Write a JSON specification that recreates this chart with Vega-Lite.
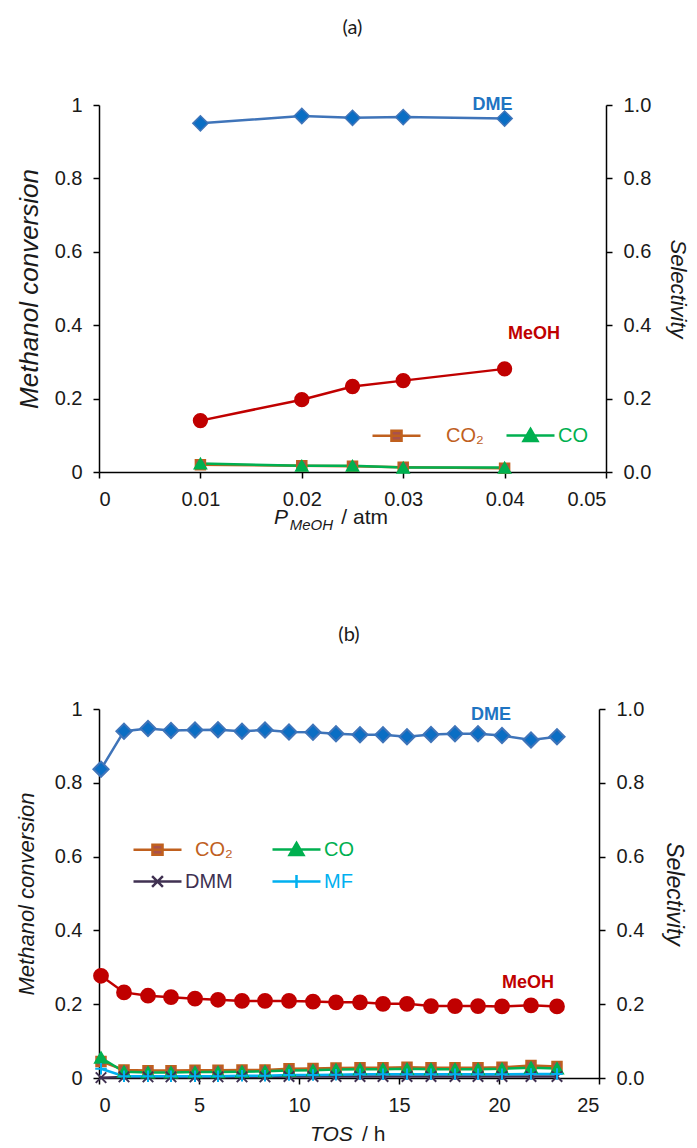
{
  "$schema": "https://vega.github.io/schema/vega-lite/v6.json",
  "padding": {"left": 15, "top": 18, "right": 5, "bottom": 0},
  "background": "white",
  "config": {
    "view": {"stroke": null},
    "axis": {
      "grid": false,
      "domainColor": "black",
      "domainWidth": 1.5,
      "tickColor": "black",
      "tickWidth": 1.5,
      "tickSize": 6,
      "labelFont": "Liberation Sans",
      "labelFontSize": 20,
      "labelColor": "#1a1a1a",
      "labelPadding": 11,
      "titleFont": "Liberation Sans",
      "titleFontSize": 22,
      "titleFontStyle": "italic",
      "titleFontWeight": "normal",
      "titleColor": "#1a1a1a"
    },
    "legend": {
      "labelFont": "Liberation Sans",
      "labelFontSize": 20
    },
    "title": {"font": "Lato", "fontSize": 20, "fontWeight": "normal", "color": "#1a1a1a", "anchor": "middle"}
  },
  "datasets": {
    "a": [
      {"p": 0.01, "series": "DME", "value": 0.950},
      {"p": 0.02, "series": "DME", "value": 0.970},
      {"p": 0.025, "series": "DME", "value": 0.965},
      {"p": 0.03, "series": "DME", "value": 0.967},
      {"p": 0.04, "series": "DME", "value": 0.963},
      {"p": 0.01, "series": "MeOH", "value": 0.140},
      {"p": 0.02, "series": "MeOH", "value": 0.197},
      {"p": 0.025, "series": "MeOH", "value": 0.233},
      {"p": 0.03, "series": "MeOH", "value": 0.249},
      {"p": 0.04, "series": "MeOH", "value": 0.281},
      {"p": 0.01, "series": "CO2", "value": 0.020},
      {"p": 0.02, "series": "CO2", "value": 0.017},
      {"p": 0.025, "series": "CO2", "value": 0.016},
      {"p": 0.03, "series": "CO2", "value": 0.013},
      {"p": 0.04, "series": "CO2", "value": 0.010},
      {"p": 0.01, "series": "CO", "value": 0.023},
      {"p": 0.02, "series": "CO", "value": 0.017},
      {"p": 0.025, "series": "CO", "value": 0.017},
      {"p": 0.03, "series": "CO", "value": 0.012},
      {"p": 0.04, "series": "CO", "value": 0.012}
    ],
    "b": [
      {"tos": 0.1, "series": "DME", "value": 0.837},
      {"tos": 1.25, "series": "DME", "value": 0.940},
      {"tos": 2.45, "series": "DME", "value": 0.947},
      {"tos": 3.6, "series": "DME", "value": 0.942},
      {"tos": 4.8, "series": "DME", "value": 0.943},
      {"tos": 5.95, "series": "DME", "value": 0.944},
      {"tos": 7.15, "series": "DME", "value": 0.940},
      {"tos": 8.3, "series": "DME", "value": 0.943},
      {"tos": 9.5, "series": "DME", "value": 0.938},
      {"tos": 10.7, "series": "DME", "value": 0.937},
      {"tos": 11.85, "series": "DME", "value": 0.933},
      {"tos": 13.05, "series": "DME", "value": 0.930},
      {"tos": 14.2, "series": "DME", "value": 0.930},
      {"tos": 15.4, "series": "DME", "value": 0.925},
      {"tos": 16.6, "series": "DME", "value": 0.931},
      {"tos": 17.8, "series": "DME", "value": 0.933},
      {"tos": 18.95, "series": "DME", "value": 0.933},
      {"tos": 20.15, "series": "DME", "value": 0.928},
      {"tos": 21.6, "series": "DME", "value": 0.916},
      {"tos": 22.9, "series": "DME", "value": 0.925},
      {"tos": 0.1, "series": "MeOH", "value": 0.277},
      {"tos": 1.25, "series": "MeOH", "value": 0.232},
      {"tos": 2.45, "series": "MeOH", "value": 0.223},
      {"tos": 3.6, "series": "MeOH", "value": 0.219},
      {"tos": 4.8, "series": "MeOH", "value": 0.215},
      {"tos": 5.95, "series": "MeOH", "value": 0.212},
      {"tos": 7.15, "series": "MeOH", "value": 0.209},
      {"tos": 8.3, "series": "MeOH", "value": 0.209},
      {"tos": 9.5, "series": "MeOH", "value": 0.209},
      {"tos": 10.7, "series": "MeOH", "value": 0.207},
      {"tos": 11.85, "series": "MeOH", "value": 0.205},
      {"tos": 13.05, "series": "MeOH", "value": 0.205},
      {"tos": 14.2, "series": "MeOH", "value": 0.201},
      {"tos": 15.4, "series": "MeOH", "value": 0.201},
      {"tos": 16.6, "series": "MeOH", "value": 0.195},
      {"tos": 17.8, "series": "MeOH", "value": 0.195},
      {"tos": 18.95, "series": "MeOH", "value": 0.195},
      {"tos": 20.15, "series": "MeOH", "value": 0.194},
      {"tos": 21.6, "series": "MeOH", "value": 0.197},
      {"tos": 22.9, "series": "MeOH", "value": 0.194},
      {"tos": 0.1, "series": "CO2", "value": 0.045},
      {"tos": 1.25, "series": "CO2", "value": 0.022},
      {"tos": 2.45, "series": "CO2", "value": 0.020},
      {"tos": 3.6, "series": "CO2", "value": 0.020},
      {"tos": 4.8, "series": "CO2", "value": 0.021},
      {"tos": 5.95, "series": "CO2", "value": 0.021},
      {"tos": 7.15, "series": "CO2", "value": 0.022},
      {"tos": 8.3, "series": "CO2", "value": 0.022},
      {"tos": 9.5, "series": "CO2", "value": 0.025},
      {"tos": 10.7, "series": "CO2", "value": 0.026},
      {"tos": 11.85, "series": "CO2", "value": 0.027},
      {"tos": 13.05, "series": "CO2", "value": 0.028},
      {"tos": 14.2, "series": "CO2", "value": 0.028},
      {"tos": 15.4, "series": "CO2", "value": 0.029},
      {"tos": 16.6, "series": "CO2", "value": 0.028},
      {"tos": 17.8, "series": "CO2", "value": 0.028},
      {"tos": 18.95, "series": "CO2", "value": 0.028},
      {"tos": 20.15, "series": "CO2", "value": 0.029},
      {"tos": 21.6, "series": "CO2", "value": 0.034},
      {"tos": 22.9, "series": "CO2", "value": 0.031},
      {"tos": 0.1, "series": "CO", "value": 0.055},
      {"tos": 1.25, "series": "CO", "value": 0.017},
      {"tos": 2.45, "series": "CO", "value": 0.015},
      {"tos": 3.6, "series": "CO", "value": 0.015},
      {"tos": 4.8, "series": "CO", "value": 0.016},
      {"tos": 5.95, "series": "CO", "value": 0.016},
      {"tos": 7.15, "series": "CO", "value": 0.017},
      {"tos": 8.3, "series": "CO", "value": 0.018},
      {"tos": 9.5, "series": "CO", "value": 0.020},
      {"tos": 10.7, "series": "CO", "value": 0.021},
      {"tos": 11.85, "series": "CO", "value": 0.023},
      {"tos": 13.05, "series": "CO", "value": 0.024},
      {"tos": 14.2, "series": "CO", "value": 0.024},
      {"tos": 15.4, "series": "CO", "value": 0.025},
      {"tos": 16.6, "series": "CO", "value": 0.024},
      {"tos": 17.8, "series": "CO", "value": 0.024},
      {"tos": 18.95, "series": "CO", "value": 0.024},
      {"tos": 20.15, "series": "CO", "value": 0.025},
      {"tos": 21.6, "series": "CO", "value": 0.028},
      {"tos": 22.9, "series": "CO", "value": 0.026},
      {"tos": 0.1, "series": "DMM", "value": 0.001},
      {"tos": 1.25, "series": "DMM", "value": 0.003},
      {"tos": 2.45, "series": "DMM", "value": 0.003},
      {"tos": 3.6, "series": "DMM", "value": 0.003},
      {"tos": 4.8, "series": "DMM", "value": 0.003},
      {"tos": 5.95, "series": "DMM", "value": 0.003},
      {"tos": 7.15, "series": "DMM", "value": 0.003},
      {"tos": 8.3, "series": "DMM", "value": 0.003},
      {"tos": 9.5, "series": "DMM", "value": 0.004},
      {"tos": 10.7, "series": "DMM", "value": 0.004},
      {"tos": 11.85, "series": "DMM", "value": 0.004},
      {"tos": 13.05, "series": "DMM", "value": 0.004},
      {"tos": 14.2, "series": "DMM", "value": 0.004},
      {"tos": 15.4, "series": "DMM", "value": 0.004},
      {"tos": 16.6, "series": "DMM", "value": 0.004},
      {"tos": 17.8, "series": "DMM", "value": 0.004},
      {"tos": 18.95, "series": "DMM", "value": 0.004},
      {"tos": 20.15, "series": "DMM", "value": 0.004},
      {"tos": 21.6, "series": "DMM", "value": 0.004},
      {"tos": 22.9, "series": "DMM", "value": 0.004},
      {"tos": 0.1, "series": "MF", "value": 0.025},
      {"tos": 1.25, "series": "MF", "value": 0.005},
      {"tos": 2.45, "series": "MF", "value": 0.005},
      {"tos": 3.6, "series": "MF", "value": 0.005},
      {"tos": 4.8, "series": "MF", "value": 0.005},
      {"tos": 5.95, "series": "MF", "value": 0.005},
      {"tos": 7.15, "series": "MF", "value": 0.006},
      {"tos": 8.3, "series": "MF", "value": 0.006},
      {"tos": 9.5, "series": "MF", "value": 0.008},
      {"tos": 10.7, "series": "MF", "value": 0.008},
      {"tos": 11.85, "series": "MF", "value": 0.009},
      {"tos": 13.05, "series": "MF", "value": 0.010},
      {"tos": 14.2, "series": "MF", "value": 0.010},
      {"tos": 15.4, "series": "MF", "value": 0.010},
      {"tos": 16.6, "series": "MF", "value": 0.010},
      {"tos": 17.8, "series": "MF", "value": 0.010},
      {"tos": 18.95, "series": "MF", "value": 0.010},
      {"tos": 20.15, "series": "MF", "value": 0.010},
      {"tos": 21.6, "series": "MF", "value": 0.011},
      {"tos": 22.9, "series": "MF", "value": 0.011}
    ]
  },
  "spacing": 92,
  "resolve": {
    "scale": {"x": "independent", "y": "independent", "fill": "independent", "stroke": "independent", "shape": "independent", "size": "independent"},
    "legend": {"fill": "independent", "stroke": "independent", "shape": "independent", "size": "independent"}
  },
  "vconcat": [
    {
      "title": {"text": "(a)", "offset": 57},
      "width": 507,
      "height": 367,
      "data": {"name": "a"},
      "resolve": {"scale": {"y": "independent"}},
      "layer": [
        {
          "layer": [
            {
              "mark": {"type": "line", "strokeWidth": 2.5},
              "encoding": {
                "x": {"field": "p", "type": "quantitative", "scale": {"domain": [0, 0.05], "nice": false}, "axis": {"values": [0, 0.01, 0.02, 0.03, 0.04, 0.05], "format": "~g", "title": null}},
                "y": {"field": "value", "type": "quantitative", "scale": {"domain": [0, 1], "nice": false}, "axis": {"values": [0, 0.2, 0.4, 0.6, 0.8, 1], "format": "~g", "title": "Methanol conversion", "titleFontSize": 26, "titlePadding": 12}},
                "stroke": {"field": "series", "type": "nominal", "scale": {"domain": ["MeOH", "DME", "CO2", "CO"], "range": ["#c00000", "#3f74b9", "#c0601e", "#00b050"]}, "legend": null}
              }
            },
            {
              "mark": {"type": "point", "filled": true, "strokeWidth": 1.5, "opacity": 1},
              "encoding": {
                "x": {"field": "p", "type": "quantitative"},
                "y": {"field": "value", "type": "quantitative"},
                "stroke": {"field": "series", "type": "nominal", "legend": null},
                "shape": {"field": "series", "type": "nominal", "scale": {"domain": ["CO", "CO2", "MeOH", "DME"], "range": ["triangle-up", "square", "circle", "diamond"]}, "legend": null},
                "size": {"field": "series", "type": "ordinal", "scale": {"type": "ordinal", "domain": ["CO2", "CO", "DME", "MeOH"], "range": [100, 150, 230, 190]}, "legend": null},
                "fill": {
                  "field": "series", "type": "nominal",
                  "scale": {"domain": ["DME", "MeOH", "CO2", "CO"], "range": ["#0a6ec4", "#c00000", "#a9514c", "#00b050"]},
                  "legend": {
                    "orient": "none", "legendX": 272, "legendY": 317, "direction": "horizontal", "columns": 2,
                    "values": ["CO2", "CO"], "title": null, "symbolSize": 576, "columnPadding": 17,
                    "labelOffset": {"expr": "datum.value === 'CO2' ? 48 : 26"},
                    "labelExpr": "datum.value === 'CO2' ? 'CO₂' : datum.label",
                    "symbolType": {"expr": "datum.value === 'CO' ? 'M-1,0H3M1,-0.55L1.58,0.45H0.42Z' : 'M-1,0H3M0.58,-0.42H1.42V0.42H0.58Z'"},
                    "symbolStrokeColor": {"expr": "datum.value === 'CO' ? '#00b050' : '#c0601e'"},
                    "symbolStrokeWidth": 2.5,
                    "symbolOpacity": 1,
                    "labelColor": {"expr": "datum.value === 'CO' ? '#00b050' : '#c0601e'"}
                  }
                }
              }
            },
            {
              "data": {"values": [{}]},
              "mark": {"type": "text", "text": "DME", "font": "Liberation Sans", "fontSize": 18, "fontWeight": "bold", "color": "#1f74c2"},
              "encoding": {"x": {"datum": 0.0388, "type": "quantitative"}, "y": {"datum": 1.0, "type": "quantitative"}}
            },
            {
              "data": {"values": [{}]},
              "mark": {"type": "text", "text": "MeOH", "font": "Liberation Sans", "fontSize": 18, "fontWeight": "bold", "color": "#c00000"},
              "encoding": {"x": {"datum": 0.0429, "type": "quantitative"}, "y": {"datum": 0.376, "type": "quantitative"}}
            },
            {
              "data": {"values": [{}]},
              "mark": {"type": "text", "text": "P", "font": "Liberation Sans", "fontSize": 21, "fontStyle": "italic", "align": "center", "baseline": "middle", "dy": 46, "color": "#1a1a1a"},
              "encoding": {"x": {"datum": 0.01795, "type": "quantitative"}, "y": {"datum": 0, "type": "quantitative"}}
            },
            {
              "data": {"values": [{}]},
              "mark": {"type": "text", "text": "MeOH", "font": "Liberation Sans", "fontSize": 15, "fontStyle": "italic", "align": "left", "baseline": "middle", "dy": 53, "color": "#1a1a1a"},
              "encoding": {"x": {"datum": 0.0188, "type": "quantitative"}, "y": {"datum": 0, "type": "quantitative"}}
            },
            {
              "data": {"values": [{}]},
              "mark": {"type": "text", "text": "/ atm", "font": "Liberation Sans", "fontSize": 21, "align": "left", "baseline": "middle", "dy": 46, "color": "#1a1a1a"},
              "encoding": {"x": {"datum": 0.0239, "type": "quantitative"}, "y": {"datum": 0, "type": "quantitative"}}
            }
          ]
        },
        {
          "mark": {"type": "point", "opacity": 0},
          "encoding": {
            "x": {"field": "p", "type": "quantitative"},
            "y": {"field": "value", "type": "quantitative", "scale": {"domain": [0, 1], "nice": false}, "axis": {"orient": "right", "values": [0, 0.2, 0.4, 0.6, 0.8, 1], "format": ".1f", "title": "Selectivity", "titleFontSize": 22, "titlePadding": 15}}
          }
        }
      ]
    },
    {
      "title": {"text": "(b)", "offset": 54},
      "width": 500,
      "height": 369,
      "data": {"name": "b"},
      "resolve": {"scale": {"y": "independent"}},
      "layer": [
        {
          "layer": [
            {
              "mark": {"type": "line", "strokeWidth": 2.5},
              "encoding": {
                "x": {"field": "tos", "type": "quantitative", "scale": {"domain": [0, 25], "nice": false}, "axis": {"values": [0, 5, 10, 15, 20, 25], "title": null}},
                "y": {"field": "value", "type": "quantitative", "scale": {"domain": [0, 1], "nice": false}, "axis": {"values": [0, 0.2, 0.4, 0.6, 0.8, 1], "format": "~g", "title": "Methanol conversion", "titleFontSize": 22, "titlePadding": 16}},
                "stroke": {"field": "series", "type": "nominal", "scale": {"domain": ["MeOH", "DME", "CO2", "CO", "DMM", "MF"], "range": ["#c00000", "#3f74b9", "#c0601e", "#00b050", "#403152", "#00b0f0"]}, "legend": null}
              }
            },
            {
              "mark": {"type": "point", "filled": true, "strokeWidth": 2, "opacity": 1},
              "encoding": {
                "x": {"field": "tos", "type": "quantitative"},
                "y": {"field": "value", "type": "quantitative"},
                "stroke": {"field": "series", "type": "nominal", "legend": null},
                "shape": {"field": "series", "type": "nominal", "scale": {"domain": ["CO", "CO2", "MeOH", "DME", "DMM", "MF"], "range": ["triangle-up", "square", "circle", "diamond", "M-1,-1L1,1M-1,1L1,-1", "M-1.1,0H1.1M0,-1.1V1.1"]}, "legend": null},
                "size": {"field": "series", "type": "ordinal", "scale": {"type": "ordinal", "domain": ["CO2", "CO", "DME", "MeOH", "DMM", "MF"], "range": [90, 140, 230, 190, 110, 110]}, "legend": null},
                "fill": {
                  "field": "series", "type": "nominal",
                  "scale": {"domain": ["DME", "MeOH", "CO2", "CO", "DMM", "MF"], "range": ["#0a6ec4", "#c00000", "#a9514c", "#00b050", "#403152", "#00b0f0"]},
                  "legend": {
                    "orient": "none", "legendX": 33, "legendY": 127, "direction": "horizontal", "columns": 2,
                    "values": ["CO2", "CO", "DMM", "MF"], "title": null, "symbolSize": 576, "columnPadding": 34, "rowPadding": 8,
                    "labelOffset": {"expr": "datum.value === 'CO2' ? 36 : 26"},
                    "labelExpr": "datum.value === 'CO2' ? 'CO₂' : datum.label",
                    "symbolType": {"expr": "datum.value === 'CO' ? 'M-1,0H3M1,-0.55L1.58,0.45H0.42Z' : datum.value === 'CO2' ? 'M-1,0H3M0.58,-0.42H1.42V0.42H0.58Z' : datum.value === 'DMM' ? 'M-1,0H3M0.55,-0.45L1.45,0.45M0.55,0.45L1.45,-0.45' : 'M-1,0H3M1,-0.55V0.55'"},
                    "symbolStrokeColor": {"expr": "datum.value === 'CO' ? '#00b050' : datum.value === 'CO2' ? '#c0601e' : datum.value === 'DMM' ? '#403152' : '#00b0f0'"},
                    "symbolStrokeWidth": 2.5,
                    "symbolOpacity": 1,
                    "labelColor": {"expr": "datum.value === 'CO' ? '#00b050' : datum.value === 'CO2' ? '#c0601e' : datum.value === 'DMM' ? '#403152' : '#00b0f0'"}
                  }
                }
              }
            },
            {
              "data": {"values": [{}]},
              "mark": {"type": "text", "text": "DME", "font": "Liberation Sans", "fontSize": 18, "fontWeight": "bold", "color": "#1f74c2"},
              "encoding": {"x": {"datum": 19.6, "type": "quantitative"}, "y": {"datum": 0.984, "type": "quantitative"}}
            },
            {
              "data": {"values": [{}]},
              "mark": {"type": "text", "text": "MeOH", "font": "Liberation Sans", "fontSize": 18, "fontWeight": "bold", "color": "#c00000"},
              "encoding": {"x": {"datum": 21.45, "type": "quantitative"}, "y": {"datum": 0.257, "type": "quantitative"}}
            },
            {
              "data": {"values": [{}]},
              "mark": {"type": "text", "text": "TOS", "font": "Liberation Sans", "fontSize": 21, "fontStyle": "italic", "align": "left", "baseline": "middle", "dy": 57, "color": "#1a1a1a"},
              "encoding": {"x": {"datum": 10.55, "type": "quantitative"}, "y": {"datum": 0, "type": "quantitative"}}
            },
            {
              "data": {"values": [{}]},
              "mark": {"type": "text", "text": "/ h", "font": "Liberation Sans", "fontSize": 21, "align": "left", "baseline": "middle", "dy": 57, "color": "#1a1a1a"},
              "encoding": {"x": {"datum": 13.15, "type": "quantitative"}, "y": {"datum": 0, "type": "quantitative"}}
            }
          ]
        },
        {
          "mark": {"type": "point", "opacity": 0},
          "encoding": {
            "x": {"field": "tos", "type": "quantitative"},
            "y": {"field": "value", "type": "quantitative", "scale": {"domain": [0, 1], "nice": false}, "axis": {"orient": "right", "values": [0, 0.2, 0.4, 0.6, 0.8, 1], "format": ".1f", "title": "Selectivity", "titleFontSize": 23, "titlePadding": 18}}
          }
        }
      ]
    }
  ]
}
